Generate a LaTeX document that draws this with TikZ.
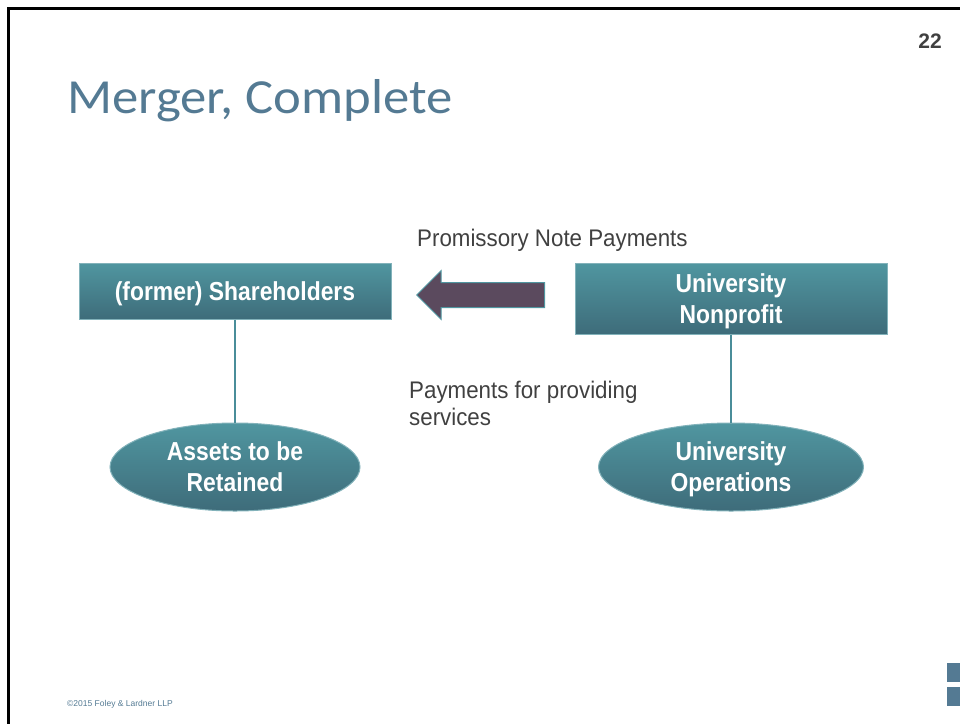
\documentclass[tikz,border=0pt]{standalone}
\usepackage{fontspec}
\setmainfont{Liberation Sans}
\newfontfamily\titlefont[FakeStretch=1.075]{Carlito}
\newfontfamily\boxfont[FakeStretch=0.88]{Liberation Sans}
\newfontfamily\labelfont[FakeStretch=0.93]{Liberation Sans}
\usetikzlibrary{positioning}
\usetikzlibrary{shapes.geometric,shapes.arrows}
\definecolor{tealtop}{RGB}{80,150,160}
\definecolor{tealbot}{RGB}{62,108,122}
\definecolor{tealedge}{RGB}{130,178,186}
\definecolor{tealline}{RGB}{74,141,153}
\definecolor{plum}{RGB}{91,74,94}
\definecolor{slate}{RGB}{84,122,147}
\definecolor{textgray}{RGB}{64,64,64}

\begin{document}
\begin{tikzpicture}[x=1pt,y=-1pt]
  \tikzstyle{entity} = [rectangle, minimum width=312pt, text centered, draw=tealedge, line width=1pt, top color=tealtop, bottom color=tealbot, text=white, font=\boxfont\bfseries\fontsize{26}{31}\selectfont, align=center, inner sep=0pt, text depth=0pt]
  \tikzstyle{holding} = [ellipse, minimum width=250pt, minimum height=88pt, draw=tealedge, line width=1pt, top color=tealtop, bottom color=tealbot, text=white, font=\boxfont\bfseries\fontsize{26}{31}\selectfont, align=center, inner sep=0pt, text depth=0pt]
  \tikzstyle{flow} = [single arrow, shape border rotate=180, minimum height=128pt, minimum width=48pt, single arrow head extend=12pt, single arrow head indent=0pt, inner xsep=0pt, inner ysep=12pt, fill=plum, draw=tealtop, line width=1pt]
  \tikzstyle{label} = [anchor=base west, text=textgray, font=\labelfont\fontsize{24}{27}\selectfont, align=left, inner sep=0pt]
  \tikzstyle{link} = [draw=tealline, line width=2pt]

  \useasboundingbox (0,0) rectangle (960,723);
  % slide frame, top and left only
  \draw [line width=3pt] (8.5,730) -- (8.5,8.5) -- (970,8.5);

  \node (title) [anchor=base west, inner sep=0pt, text=slate, font=\titlefont\fontsize{49}{56}\selectfont] at (67,113) {Merger, Complete};
  \node (page) [anchor=base east, inner sep=0pt, text=textgray, font=\bfseries\fontsize{21}{24}\selectfont] at (942,48) {22};

  \node (share) [entity, minimum height=56pt] at (235,291) {(former) Shareholders};
  \node (uni) [entity, minimum height=71pt] at (731,298.5) {University\\Nonprofit};
  \node (assets) [holding] at (235,467) {Assets to be\\Retained};
  \node (ops) [holding, minimum width=265pt] at (731,467) {University\\Operations};

  \node (pay) [flow, anchor=tip] at (416,295) {};
  \node (notes) [label] at (417,246) {Promissory Note Payments};
  \node (services) [label] at (409,425) {Payments for providing\\services};

  \draw [link] (share) -- (assets);
  \draw [link] (uni) -- (ops);

  \node (copy) [anchor=base west, inner sep=0pt, text=slate, font=\fontsize{8.5}{10}\selectfont] at (67,706) {\textcopyright2015 Foley \& Lardner LLP};
  \node (mark1) [rectangle, fill=slate, minimum width=14pt, minimum height=19pt, inner sep=0pt, anchor=north west] at (947,663) {};
  \node (mark2) [rectangle, fill=slate, minimum width=14pt, minimum height=19pt, inner sep=0pt, anchor=north west] at (947,687) {};
\end{tikzpicture}
\end{document}
